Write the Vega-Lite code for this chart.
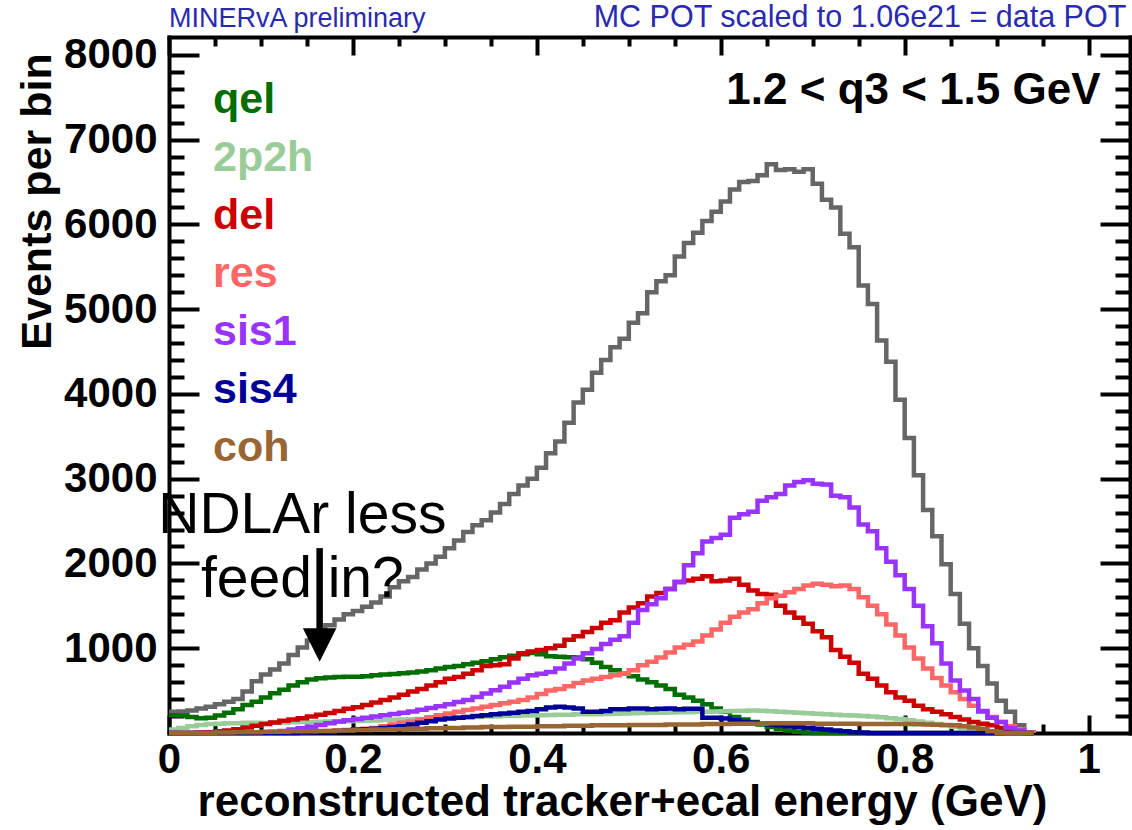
{
"$schema": "https://vega.github.io/schema/vega-lite/v6.json",
"width": 961, "height": 696,
"autosize": {"type": "none"},
"padding": {"left": 169, "top": 37, "right": 2, "bottom": 97},
"background": "white",
"config": {
 "view": {"stroke": null},
 "font": "Liberation Sans",
 "axis": {"grid": false, "domain": false, "domainColor": "black", "domainWidth": 4, "domainCap": "square", "tickColor": "black", "tickWidth": 4, "ticks": true, "tickOpacity": 1, "labelFont": "Liberation Sans", "labelFontWeight": "bold", "labelFontSize": 42, "labelColor": "black", "labelFlush": false, "labelOverlap": false, "labelBound": false, "titleFont": "Liberation Sans", "titleFontWeight": "bold", "titleColor": "black", "zindex": 2},
 "legend": {"padding": 0}
},
"datasets": {"h": [
{"x":0.00,"total":250,"qel":210,"2p2h":40,"del":0,"res":0,"sis1":0,"sis4":0,"coh":0},
{"x":0.01,"total":255,"qel":205,"2p2h":60,"del":0,"res":0,"sis1":0,"sis4":0,"coh":0},
{"x":0.02,"total":265,"qel":190,"2p2h":80,"del":0,"res":0,"sis1":0,"sis4":0,"coh":0},
{"x":0.03,"total":290,"qel":175,"2p2h":95,"del":5,"res":0,"sis1":0,"sis4":0,"coh":0},
{"x":0.04,"total":310,"qel":180,"2p2h":105,"del":10,"res":0,"sis1":0,"sis4":0,"coh":0},
{"x":0.05,"total":340,"qel":205,"2p2h":110,"del":20,"res":0,"sis1":0,"sis4":0,"coh":5},
{"x":0.06,"total":370,"qel":240,"2p2h":115,"del":30,"res":0,"sis1":0,"sis4":0,"coh":5},
{"x":0.07,"total":400,"qel":280,"2p2h":115,"del":45,"res":0,"sis1":0,"sis4":0,"coh":10},
{"x":0.08,"total":490,"qel":330,"2p2h":120,"del":65,"res":0,"sis1":0,"sis4":0,"coh":10},
{"x":0.09,"total":610,"qel":370,"2p2h":120,"del":85,"res":0,"sis1":5,"sis4":0,"coh":10},
{"x":0.10,"total":690,"qel":420,"2p2h":118,"del":105,"res":0,"sis1":10,"sis4":0,"coh":15},
{"x":0.11,"total":750,"qel":470,"2p2h":125,"del":125,"res":0,"sis1":15,"sis4":0,"coh":15},
{"x":0.12,"total":820,"qel":510,"2p2h":122,"del":145,"res":5,"sis1":25,"sis4":0,"coh":15},
{"x":0.13,"total":920,"qel":560,"2p2h":126,"del":160,"res":5,"sis1":40,"sis4":0,"coh":20},
{"x":0.14,"total":1010,"qel":600,"2p2h":130,"del":175,"res":10,"sis1":55,"sis4":5,"coh":20},
{"x":0.15,"total":1090,"qel":630,"2p2h":128,"del":195,"res":15,"sis1":75,"sis4":5,"coh":20},
{"x":0.16,"total":1180,"qel":645,"2p2h":132,"del":215,"res":20,"sis1":95,"sis4":10,"coh":25},
{"x":0.17,"total":1270,"qel":655,"2p2h":135,"del":235,"res":25,"sis1":115,"sis4":10,"coh":25},
{"x":0.18,"total":1340,"qel":660,"2p2h":133,"del":260,"res":30,"sis1":135,"sis4":20,"coh":30},
{"x":0.19,"total":1400,"qel":665,"2p2h":140,"del":285,"res":35,"sis1":150,"sis4":30,"coh":30},
{"x":0.20,"total":1440,"qel":665,"2p2h":142,"del":305,"res":40,"sis1":165,"sis4":40,"coh":35},
{"x":0.21,"total":1490,"qel":670,"2p2h":145,"del":330,"res":50,"sis1":180,"sis4":45,"coh":35},
{"x":0.22,"total":1540,"qel":680,"2p2h":148,"del":360,"res":60,"sis1":195,"sis4":50,"coh":40},
{"x":0.23,"total":1610,"qel":690,"2p2h":152,"del":390,"res":80,"sis1":210,"sis4":60,"coh":40},
{"x":0.24,"total":1720,"qel":695,"2p2h":155,"del":420,"res":100,"sis1":225,"sis4":70,"coh":45},
{"x":0.25,"total":1790,"qel":705,"2p2h":158,"del":450,"res":120,"sis1":240,"sis4":80,"coh":45},
{"x":0.26,"total":1840,"qel":715,"2p2h":162,"del":490,"res":135,"sis1":255,"sis4":100,"coh":50},
{"x":0.27,"total":1930,"qel":725,"2p2h":165,"del":520,"res":160,"sis1":275,"sis4":120,"coh":50},
{"x":0.28,"total":2000,"qel":740,"2p2h":170,"del":560,"res":185,"sis1":295,"sis4":140,"coh":55},
{"x":0.29,"total":2080,"qel":760,"2p2h":176,"del":600,"res":210,"sis1":315,"sis4":160,"coh":55},
{"x":0.30,"total":2180,"qel":780,"2p2h":180,"del":640,"res":230,"sis1":340,"sis4":170,"coh":60},
{"x":0.31,"total":2270,"qel":790,"2p2h":184,"del":660,"res":250,"sis1":365,"sis4":180,"coh":60},
{"x":0.32,"total":2370,"qel":810,"2p2h":186,"del":700,"res":270,"sis1":390,"sis4":190,"coh":65},
{"x":0.33,"total":2450,"qel":830,"2p2h":190,"del":740,"res":290,"sis1":425,"sis4":200,"coh":65},
{"x":0.34,"total":2510,"qel":845,"2p2h":194,"del":790,"res":310,"sis1":465,"sis4":210,"coh":70},
{"x":0.35,"total":2600,"qel":870,"2p2h":196,"del":800,"res":330,"sis1":505,"sis4":220,"coh":70},
{"x":0.36,"total":2700,"qel":895,"2p2h":200,"del":810,"res":350,"sis1":545,"sis4":230,"coh":70},
{"x":0.37,"total":2820,"qel":910,"2p2h":202,"del":880,"res":370,"sis1":595,"sis4":240,"coh":75},
{"x":0.38,"total":2920,"qel":930,"2p2h":205,"del":940,"res":390,"sis1":640,"sis4":250,"coh":75},
{"x":0.39,"total":3000,"qel":945,"2p2h":206,"del":960,"res":420,"sis1":680,"sis4":260,"coh":75},
{"x":0.40,"total":3130,"qel":930,"2p2h":210,"del":980,"res":460,"sis1":700,"sis4":280,"coh":80},
{"x":0.41,"total":3300,"qel":905,"2p2h":212,"del":1000,"res":500,"sis1":720,"sis4":300,"coh":80},
{"x":0.42,"total":3440,"qel":900,"2p2h":215,"del":1030,"res":520,"sis1":760,"sis4":310,"coh":80},
{"x":0.43,"total":3660,"qel":895,"2p2h":216,"del":1100,"res":550,"sis1":820,"sis4":300,"coh":85},
{"x":0.44,"total":3900,"qel":890,"2p2h":220,"del":1140,"res":590,"sis1":880,"sis4":290,"coh":85},
{"x":0.45,"total":4050,"qel":870,"2p2h":222,"del":1190,"res":620,"sis1":940,"sis4":250,"coh":85},
{"x":0.46,"total":4250,"qel":830,"2p2h":220,"del":1240,"res":640,"sis1":990,"sis4":250,"coh":90},
{"x":0.47,"total":4400,"qel":780,"2p2h":225,"del":1300,"res":660,"sis1":1050,"sis4":260,"coh":90},
{"x":0.48,"total":4550,"qel":740,"2p2h":228,"del":1330,"res":680,"sis1":1100,"sis4":280,"coh":90},
{"x":0.49,"total":4650,"qel":700,"2p2h":230,"del":1420,"res":700,"sis1":1140,"sis4":280,"coh":90},
{"x":0.50,"total":4840,"qel":670,"2p2h":232,"del":1480,"res":740,"sis1":1300,"sis4":290,"coh":95},
{"x":0.51,"total":4950,"qel":630,"2p2h":236,"del":1530,"res":800,"sis1":1450,"sis4":290,"coh":95},
{"x":0.52,"total":5200,"qel":600,"2p2h":238,"del":1610,"res":840,"sis1":1520,"sis4":280,"coh":95},
{"x":0.53,"total":5330,"qel":560,"2p2h":240,"del":1650,"res":890,"sis1":1590,"sis4":285,"coh":95},
{"x":0.54,"total":5400,"qel":520,"2p2h":242,"del":1700,"res":950,"sis1":1700,"sis4":290,"coh":100},
{"x":0.55,"total":5620,"qel":450,"2p2h":245,"del":1780,"res":1010,"sis1":1780,"sis4":280,"coh":100},
{"x":0.56,"total":5780,"qel":420,"2p2h":246,"del":1800,"res":1040,"sis1":1980,"sis4":285,"coh":100},
{"x":0.57,"total":5900,"qel":380,"2p2h":250,"del":1820,"res":1080,"sis1":2120,"sis4":285,"coh":100},
{"x":0.58,"total":6040,"qel":340,"2p2h":252,"del":1850,"res":1150,"sis1":2260,"sis4":180,"coh":105},
{"x":0.59,"total":6150,"qel":290,"2p2h":255,"del":1790,"res":1220,"sis1":2300,"sis4":180,"coh":105},
{"x":0.60,"total":6270,"qel":250,"2p2h":256,"del":1800,"res":1300,"sis1":2340,"sis4":170,"coh":105},
{"x":0.61,"total":6410,"qel":190,"2p2h":260,"del":1820,"res":1370,"sis1":2540,"sis4":150,"coh":110},
{"x":0.62,"total":6500,"qel":160,"2p2h":262,"del":1750,"res":1420,"sis1":2580,"sis4":130,"coh":110},
{"x":0.63,"total":6510,"qel":130,"2p2h":265,"del":1680,"res":1460,"sis1":2610,"sis4":120,"coh":110},
{"x":0.64,"total":6580,"qel":100,"2p2h":262,"del":1640,"res":1530,"sis1":2740,"sis4":110,"coh":110},
{"x":0.65,"total":6710,"qel":70,"2p2h":256,"del":1630,"res":1590,"sis1":2780,"sis4":100,"coh":115},
{"x":0.66,"total":6640,"qel":50,"2p2h":250,"del":1500,"res":1620,"sis1":2820,"sis4":90,"coh":115},
{"x":0.67,"total":6650,"qel":30,"2p2h":246,"del":1420,"res":1660,"sis1":2920,"sis4":80,"coh":115},
{"x":0.68,"total":6620,"qel":15,"2p2h":240,"del":1360,"res":1700,"sis1":2960,"sis4":70,"coh":115},
{"x":0.69,"total":6650,"qel":5,"2p2h":232,"del":1290,"res":1740,"sis1":2980,"sis4":60,"coh":115},
{"x":0.70,"total":6480,"qel":0,"2p2h":226,"del":1200,"res":1760,"sis1":2940,"sis4":50,"coh":110},
{"x":0.71,"total":6290,"qel":0,"2p2h":220,"del":1130,"res":1750,"sis1":2930,"sis4":40,"coh":110},
{"x":0.72,"total":6200,"qel":0,"2p2h":214,"del":980,"res":1730,"sis1":2800,"sis4":30,"coh":110},
{"x":0.73,"total":5890,"qel":0,"2p2h":210,"del":900,"res":1740,"sis1":2780,"sis4":20,"coh":110},
{"x":0.74,"total":5730,"qel":0,"2p2h":205,"del":830,"res":1700,"sis1":2660,"sis4":10,"coh":108},
{"x":0.75,"total":5280,"qel":0,"2p2h":200,"del":700,"res":1600,"sis1":2460,"sis4":5,"coh":106},
{"x":0.76,"total":5060,"qel":0,"2p2h":195,"del":640,"res":1500,"sis1":2380,"sis4":0,"coh":105},
{"x":0.77,"total":4630,"qel":0,"2p2h":185,"del":560,"res":1400,"sis1":2180,"sis4":0,"coh":105},
{"x":0.78,"total":4380,"qel":0,"2p2h":175,"del":480,"res":1280,"sis1":2020,"sis4":0,"coh":105},
{"x":0.79,"total":3930,"qel":0,"2p2h":165,"del":420,"res":1150,"sis1":1860,"sis4":0,"coh":105},
{"x":0.80,"total":3480,"qel":0,"2p2h":150,"del":380,"res":1010,"sis1":1700,"sis4":0,"coh":105},
{"x":0.81,"total":3040,"qel":0,"2p2h":135,"del":320,"res":880,"sis1":1500,"sis4":0,"coh":102},
{"x":0.82,"total":2630,"qel":0,"2p2h":120,"del":280,"res":760,"sis1":1260,"sis4":0,"coh":100},
{"x":0.83,"total":2320,"qel":0,"2p2h":105,"del":250,"res":650,"sis1":1060,"sis4":0,"coh":98},
{"x":0.84,"total":1990,"qel":0,"2p2h":90,"del":220,"res":560,"sis1":820,"sis4":0,"coh":95},
{"x":0.85,"total":1640,"qel":0,"2p2h":75,"del":190,"res":480,"sis1":620,"sis4":0,"coh":90},
{"x":0.86,"total":1290,"qel":0,"2p2h":60,"del":160,"res":400,"sis1":500,"sis4":0,"coh":80},
{"x":0.87,"total":1000,"qel":0,"2p2h":45,"del":130,"res":320,"sis1":400,"sis4":0,"coh":65},
{"x":0.88,"total":790,"qel":0,"2p2h":30,"del":110,"res":250,"sis1":260,"sis4":0,"coh":50},
{"x":0.89,"total":585,"qel":0,"2p2h":20,"del":90,"res":190,"sis1":180,"sis4":0,"coh":20},
{"x":0.90,"total":380,"qel":0,"2p2h":10,"del":60,"res":130,"sis1":130,"sis4":0,"coh":0},
{"x":0.91,"total":250,"qel":0,"2p2h":0,"del":30,"res":80,"sis1":60,"sis4":0,"coh":0},
{"x":0.92,"total":90,"qel":0,"2p2h":0,"del":10,"res":40,"sis1":30,"sis4":0,"coh":0},
{"x":0.93,"total":10,"qel":0,"2p2h":0,"del":0,"res":10,"sis1":0,"sis4":0,"coh":0},
{"x":0.94,"total":0,"qel":0,"2p2h":0,"del":0,"res":0,"sis1":0,"sis4":0,"coh":0}
]},
"layer": [
 {
  "data": {"name": "h"},
  "mark": {"type": "line", "interpolate": "step-after", "color": "#666666", "strokeWidth": 4.5, "strokeJoin": "miter"},
  "encoding": {
   "x": {"field": "x", "type": "quantitative", "scale": {"domain": [0, 1.045], "nice": false, "zero": false},
    "axis": {"orient": "bottom", "offset": -18, "values": [0, 0.2, 0.4, 0.6, 0.8, 1], "format": "~g", "tickSize": 18, "labelPadding": 6,
     "title": "reconstructed tracker+ecal energy (GeV)", "titleFontSize": 44, "titleX": 453, "titleY": 100, "titleAlign": "center", "titleBaseline": "alphabetic"}},
   "y": {"field": "total", "type": "quantitative", "scale": {"domain": [0, 8210], "nice": false, "zero": false},
    "axis": {"orient": "left", "offset": -30, "values": [1000, 2000, 3000, 4000, 5000, 6000, 7000, 8000], "format": "d", "tickSize": 30, "labelPadding": 12,
     "title": "Events per bin", "titleFontSize": 43, "titleX": -149, "titleY": 164, "titleAlign": "center", "titleBaseline": "alphabetic", "titleAngle": -90}}
  }
 },
 {
  "data": {"name": "h"},
  "transform": [{"fold": ["qel", "2p2h", "del", "res", "sis1", "sis4", "coh"], "as": ["s", "v"]}],
  "mark": {"type": "line", "interpolate": "step-after", "strokeWidth": 4.5, "strokeJoin": "miter"},
  "encoding": {
   "x": {"field": "x", "type": "quantitative", "scale": {"domain": [0, 1.045], "nice": false, "zero": false}, "axis": null},
   "y": {"field": "v", "type": "quantitative", "scale": {"domain": [0, 8210], "nice": false, "zero": false}, "axis": null},
   "color": {"field": "s", "type": "nominal",
    "scale": {"domain": ["qel", "2p2h", "del", "res", "sis1", "sis4", "coh"], "range": ["#006e00", "#99cc99", "#cc0000", "#ff6666", "#9933ff", "#000099", "#996633"]},
    "legend": {"title": null, "orient": "none", "legendX": 1, "legendY": 41, "symbolSize": 0, "symbolStrokeWidth": 0, "symbolOpacity": 0, "labelOffset": 0,
     "labelFont": "Liberation Sans", "labelFontWeight": "bold", "labelFontSize": 43, "rowPadding": 14, "padding": 0,
     "encode": {"labels": {"update": {"fill": {"scale": "color", "field": "value"}}}}}}
  }
 },
 {
  "data": {"name": "h"},
  "mark": {"type": "point", "opacity": 0},
  "encoding": {
   "x": {"field": "x", "type": "quantitative", "scale": {"domain": [0, 1.045], "nice": false, "zero": false},
    "axis": {"orient": "bottom", "offset": -9, "values": [0.05, 0.1, 0.15, 0.25, 0.3, 0.35, 0.45, 0.5, 0.55, 0.65, 0.7, 0.75, 0.85, 0.9, 0.95], "tickSize": 9, "labels": false, "title": null}},
   "y": {"field": "total", "type": "quantitative", "scale": {"domain": [0, 8210], "nice": false, "zero": false},
    "axis": {"orient": "left", "offset": -15, "values": [200, 400, 600, 800, 1200, 1400, 1600, 1800, 2200, 2400, 2600, 2800, 3200, 3400, 3600, 3800, 4200, 4400, 4600, 4800, 5200, 5400, 5600, 5800, 6200, 6400, 6600, 6800, 7200, 7400, 7600, 7800], "tickSize": 15, "labels": false, "title": null}}
  }
 },
 {
  "data": {"name": "h"},
  "mark": {"type": "point", "opacity": 0},
  "encoding": {
   "x": {"field": "x", "type": "quantitative", "scale": {"domain": [0, 1.045], "nice": false, "zero": false},
    "axis": {"orient": "top", "offset": -18, "values": [0, 0.2, 0.4, 0.6, 0.8, 1], "tickSize": 18, "labels": false, "title": null}},
   "y": {"field": "total", "type": "quantitative", "scale": {"domain": [0, 8210], "nice": false, "zero": false},
    "axis": {"orient": "right", "offset": -30, "values": [1000, 2000, 3000, 4000, 5000, 6000, 7000, 8000], "tickSize": 30, "labels": false, "title": null}}
  }
 },
 {
  "data": {"name": "h"},
  "mark": {"type": "point", "opacity": 0},
  "encoding": {
   "x": {"field": "x", "type": "quantitative", "scale": {"domain": [0, 1.045], "nice": false, "zero": false},
    "axis": {"orient": "top", "offset": -9, "values": [0.05, 0.1, 0.15, 0.25, 0.3, 0.35, 0.45, 0.5, 0.55, 0.65, 0.7, 0.75, 0.85, 0.9, 0.95], "tickSize": 9, "labels": false, "title": null}},
   "y": {"field": "total", "type": "quantitative", "scale": {"domain": [0, 8210], "nice": false, "zero": false},
    "axis": {"orient": "right", "offset": -15, "values": [200, 400, 600, 800, 1200, 1400, 1600, 1800, 2200, 2400, 2600, 2800, 3200, 3400, 3600, 3800, 4200, 4400, 4600, 4800, 5200, 5400, 5600, 5800, 6200, 6400, 6600, 6800, 7200, 7400, 7600, 7800], "tickSize": 15, "labels": false, "title": null}}
  }
 },
 {
  "data": {"name": "h"},
  "mark": {"type": "point", "opacity": 0},
  "encoding": {
   "x": {"field": "x", "type": "quantitative", "scale": {"domain": [0, 1.045], "nice": false, "zero": false},
    "axis": {"orient": "bottom", "domain": true, "ticks": false, "labels": false, "title": null}},
   "y": {"field": "total", "type": "quantitative", "scale": {"domain": [0, 8210], "nice": false, "zero": false},
    "axis": {"orient": "left", "domain": true, "ticks": false, "labels": false, "title": null}}
  }
 },
 {
  "data": {"name": "h"},
  "mark": {"type": "point", "opacity": 0},
  "encoding": {
   "x": {"field": "x", "type": "quantitative", "scale": {"domain": [0, 1.045], "nice": false, "zero": false},
    "axis": {"orient": "top", "domain": true, "ticks": false, "labels": false, "title": null}},
   "y": {"field": "total", "type": "quantitative", "scale": {"domain": [0, 8210], "nice": false, "zero": false},
    "axis": {"orient": "right", "domain": true, "ticks": false, "labels": false, "title": null}}
  }
 },
 {
  "data": {"values": [{}]},
  "mark": {"type": "text", "text": "1.2 < q3 < 1.5 GeV", "align": "right", "baseline": "alphabetic", "font": "Liberation Sans", "fontWeight": "bold", "fontSize": 44, "color": "black"},
  "encoding": {
   "x": {"datum": 1.013, "type": "quantitative", "scale": {"domain": [0, 1.045], "nice": false, "zero": false}, "axis": null},
   "y": {"datum": 7416, "type": "quantitative", "scale": {"domain": [0, 8210], "nice": false, "zero": false}, "axis": null}
  }
 },
 {
  "data": {"values": [{}]},
  "mark": {"type": "text", "text": "MINERvA preliminary", "align": "left", "baseline": "alphabetic", "font": "Liberation Sans", "fontSize": 27, "color": "#2a2ab0"},
  "encoding": {
   "x": {"datum": 0, "type": "quantitative", "scale": {"domain": [0, 1.045], "nice": false, "zero": false}, "axis": null},
   "y": {"datum": 8324, "type": "quantitative", "scale": {"domain": [0, 8210], "nice": false, "zero": false}, "axis": null}
  }
 },
 {
  "data": {"values": [{}]},
  "mark": {"type": "text", "text": "MC POT scaled to 1.06e21 = data POT", "align": "right", "baseline": "alphabetic", "font": "Liberation Sans", "fontSize": 30.5, "color": "#2a2ab0"},
  "encoding": {
   "x": {"datum": 1.041, "type": "quantitative", "scale": {"domain": [0, 1.045], "nice": false, "zero": false}, "axis": null},
   "y": {"datum": 8324, "type": "quantitative", "scale": {"domain": [0, 8210], "nice": false, "zero": false}, "axis": null}
  }
 },
 {
  "data": {"values": [{}]},
  "mark": {"type": "text", "text": ["NDLAr less", "feed in?"], "lineHeight": 64, "align": "center", "baseline": "alphabetic", "font": "Liberation Sans", "fontSize": 57, "color": "black"},
  "encoding": {
   "x": {"datum": 0.145, "type": "quantitative", "scale": {"domain": [0, 1.045], "nice": false, "zero": false}, "axis": null},
   "y": {"datum": 2358, "type": "quantitative", "scale": {"domain": [0, 8210], "nice": false, "zero": false}, "axis": null}
  }
 },
 {
  "data": {"values": [{}]},
  "mark": {"type": "rule", "color": "black", "strokeWidth": 6.5},
  "encoding": {
   "x": {"datum": 0.1638, "type": "quantitative", "scale": {"domain": [0, 1.045], "nice": false, "zero": false}, "axis": null},
   "y": {"datum": 2181, "type": "quantitative", "scale": {"domain": [0, 8210], "nice": false, "zero": false}, "axis": null},
   "y2": {"datum": 1150}
  }
 },
 {
  "data": {"values": [{}]},
  "mark": {"type": "point", "shape": "M -1 -1 L 1 -1 L 0 1 Z", "filled": true, "size": 1120, "color": "black", "opacity": 1, "strokeWidth": 0},
  "encoding": {
   "x": {"datum": 0.1638, "type": "quantitative", "scale": {"domain": [0, 1.045], "nice": false, "zero": false}, "axis": null},
   "y": {"datum": 1038, "type": "quantitative", "scale": {"domain": [0, 8210], "nice": false, "zero": false}, "axis": null}
  }
 }
],
"resolve": {"axis": {"x": "independent", "y": "independent"}}
}
